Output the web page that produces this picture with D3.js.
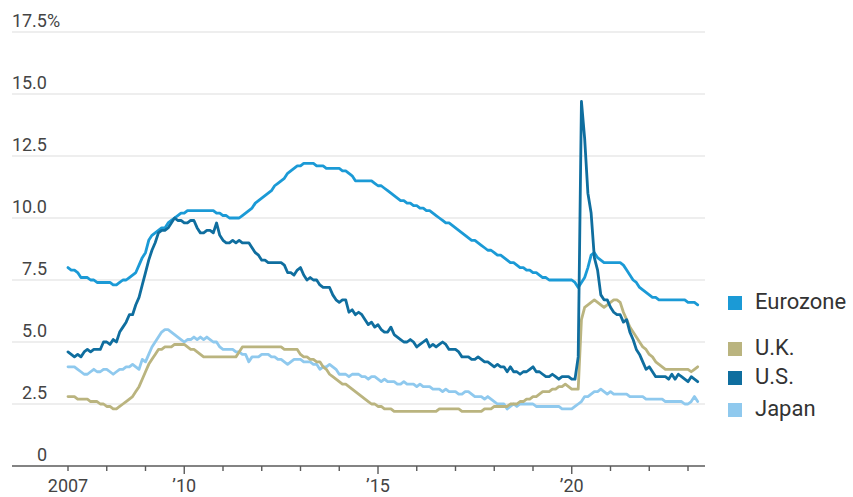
<!DOCTYPE html>
<html>
<head>
<meta charset="utf-8">
<script src="https://cdn.jsdelivr.net/npm/d3@7"></script>
<style>
  html, body { margin: 0; padding: 0; background: #fff; }
  svg { display: block; }
</style>
</head>
<body>
<svg id="chart" width="853" height="497"></svg>
<script>
// ---- DATA (monthly, Jan 2007 – Apr 2023, % unemployment) ----
const startYear = 2007;
const seriesNames = ["Eurozone", "U.K.", "U.S.", "Japan"];

const eurozone = [
  8.0,7.9,7.9,7.8,7.6,7.6,7.6,7.5,7.5,7.4,7.4,7.4,
  7.4,7.4,7.3,7.3,7.4,7.5,7.5,7.6,7.7,7.8,8.1,8.4,
  8.6,9.1,9.3,9.4,9.5,9.6,9.6,9.8,9.9,10.0,10.1,10.2,
  10.2,10.3,10.3,10.3,10.3,10.3,10.3,10.3,10.3,10.3,10.2,10.2,
  10.1,10.1,10.0,10.0,10.0,10.0,10.1,10.2,10.3,10.4,10.6,10.7,
  10.8,10.9,11.0,11.1,11.3,11.4,11.5,11.6,11.8,11.9,12.0,12.1,
  12.1,12.2,12.2,12.2,12.2,12.1,12.1,12.1,12.0,12.0,12.0,12.0,
  12.0,11.9,11.9,11.8,11.7,11.5,11.5,11.5,11.5,11.5,11.5,11.4,
  11.3,11.3,11.2,11.1,11.0,10.9,10.8,10.7,10.7,10.6,10.6,10.5,
  10.5,10.4,10.4,10.3,10.3,10.2,10.1,10.0,9.9,9.8,9.8,9.7,
  9.6,9.5,9.4,9.3,9.2,9.1,9.1,9.0,8.9,8.8,8.7,8.7,
  8.6,8.5,8.5,8.4,8.3,8.2,8.2,8.1,8.0,8.0,7.9,7.9,
  7.8,7.8,7.7,7.6,7.6,7.5,7.5,7.5,7.5,7.5,7.5,7.5,
  7.5,7.4,7.2,7.4,7.6,8.0,8.5,8.6,8.4,8.3,8.2,8.2,
  8.2,8.2,8.2,8.2,8.1,7.9,7.7,7.5,7.4,7.2,7.1,7.0,
  6.9,6.8,6.8,6.7,6.7,6.7,6.7,6.7,6.7,6.7,6.7,6.7,
  6.6,6.6,6.6,6.5
];

const uk = [
  2.8,2.8,2.8,2.7,2.7,2.7,2.7,2.6,2.6,2.6,2.5,2.5,
  2.4,2.4,2.3,2.3,2.4,2.5,2.6,2.7,2.8,3.0,3.2,3.5,
  3.8,4.1,4.3,4.5,4.7,4.7,4.8,4.8,4.8,4.9,4.9,4.9,
  4.9,4.8,4.7,4.7,4.6,4.5,4.4,4.4,4.4,4.4,4.4,4.4,
  4.4,4.4,4.4,4.4,4.4,4.6,4.8,4.8,4.8,4.8,4.8,4.8,
  4.8,4.8,4.8,4.8,4.8,4.8,4.8,4.7,4.7,4.7,4.7,4.7,
  4.5,4.4,4.4,4.3,4.3,4.2,4.2,4.0,3.9,3.7,3.6,3.5,
  3.4,3.3,3.3,3.2,3.1,3.0,2.9,2.8,2.7,2.6,2.5,2.5,
  2.4,2.4,2.3,2.3,2.3,2.2,2.2,2.2,2.2,2.2,2.2,2.2,
  2.2,2.2,2.2,2.2,2.2,2.2,2.2,2.3,2.3,2.3,2.3,2.3,
  2.3,2.3,2.2,2.2,2.2,2.2,2.2,2.2,2.2,2.3,2.3,2.3,
  2.4,2.4,2.4,2.4,2.4,2.5,2.5,2.5,2.6,2.6,2.7,2.7,
  2.8,2.8,2.9,3.0,3.0,3.0,3.1,3.1,3.2,3.2,3.3,3.2,
  3.1,3.1,3.1,5.9,6.4,6.5,6.6,6.7,6.6,6.5,6.4,6.5,
  6.6,6.7,6.7,6.6,6.2,5.9,5.6,5.4,5.2,5.0,4.8,4.7,
  4.5,4.4,4.2,4.1,4.0,3.9,3.9,3.9,3.9,3.9,3.9,3.9,
  3.9,3.8,3.9,4.0
];

const us = [
  4.6,4.5,4.4,4.5,4.4,4.6,4.7,4.6,4.7,4.7,4.7,5.0,
  5.0,4.9,5.1,5.0,5.4,5.6,5.8,6.1,6.1,6.5,6.8,7.3,
  7.8,8.3,8.7,9.0,9.4,9.5,9.5,9.6,9.8,10.0,9.9,9.9,
  9.8,9.8,9.9,9.9,9.6,9.4,9.4,9.5,9.5,9.4,9.8,9.3,
  9.1,9.0,9.0,9.1,9.0,9.1,9.0,9.0,9.0,8.8,8.6,8.5,
  8.3,8.3,8.2,8.2,8.2,8.2,8.2,8.1,7.8,7.8,7.7,7.9,
  8.0,7.7,7.5,7.6,7.5,7.5,7.3,7.2,7.2,7.2,6.9,6.7,
  6.6,6.7,6.7,6.2,6.3,6.1,6.2,6.1,5.9,5.7,5.8,5.6,
  5.7,5.5,5.4,5.4,5.6,5.3,5.2,5.1,5.0,5.0,5.1,5.0,
  4.8,4.9,5.0,5.1,4.8,4.9,4.8,4.9,5.0,4.9,4.7,4.7,
  4.7,4.6,4.4,4.4,4.4,4.3,4.3,4.4,4.3,4.2,4.2,4.1,
  4.0,4.1,4.0,4.0,3.8,4.0,3.8,3.8,3.7,3.8,3.8,3.9,
  4.0,3.8,3.8,3.7,3.6,3.6,3.7,3.6,3.5,3.6,3.6,3.6,
  3.5,3.5,4.4,14.7,13.2,11.0,10.2,8.4,7.9,6.9,6.7,6.7,
  6.4,6.2,6.1,6.1,5.8,5.9,5.4,5.1,4.7,4.5,4.2,3.9,
  4.0,3.8,3.6,3.6,3.6,3.6,3.5,3.7,3.5,3.7,3.6,3.5,
  3.4,3.6,3.5,3.4
];

const japan = [
  4.0,4.0,4.0,3.9,3.8,3.7,3.7,3.8,3.9,3.8,3.8,3.9,
  3.9,3.8,3.7,3.8,3.9,3.9,4.0,4.0,4.1,4.0,3.9,4.3,
  4.2,4.5,4.8,5.0,5.2,5.4,5.5,5.5,5.4,5.3,5.2,5.1,
  5.0,5.1,5.1,5.2,5.1,5.2,5.1,5.2,5.1,5.0,5.0,4.8,
  4.7,4.7,4.7,4.7,4.6,4.6,4.5,4.5,4.2,4.4,4.4,4.4,
  4.5,4.5,4.5,4.4,4.4,4.3,4.3,4.2,4.1,4.2,4.3,4.3,
  4.3,4.2,4.2,4.2,4.1,4.1,3.9,4.0,4.0,4.1,4.0,3.9,
  3.7,3.7,3.7,3.6,3.7,3.7,3.7,3.6,3.6,3.5,3.6,3.6,
  3.5,3.4,3.5,3.4,3.4,3.4,3.3,3.3,3.4,3.3,3.3,3.3,
  3.2,3.3,3.2,3.2,3.2,3.1,3.1,3.1,3.0,3.1,3.0,3.0,
  3.0,2.9,2.9,3.0,3.0,2.9,2.8,2.8,2.8,2.7,2.8,2.7,
  2.6,2.5,2.5,2.5,2.3,2.4,2.5,2.4,2.5,2.5,2.5,2.5,
  2.5,2.4,2.4,2.4,2.4,2.4,2.4,2.4,2.4,2.3,2.3,2.3,
  2.3,2.4,2.5,2.6,2.8,2.8,2.9,3.0,3.0,3.1,3.0,2.9,
  3.0,2.9,2.9,2.9,2.9,2.9,2.8,2.8,2.8,2.8,2.8,2.7,
  2.7,2.7,2.7,2.7,2.7,2.6,2.6,2.6,2.6,2.6,2.6,2.5,
  2.5,2.6,2.8,2.6
];

const yTicks = [0, 2.5, 5, 7.5, 10, 12.5, 15, 17.5];
const yTickLabels = ["0", "2.5", "5.0", "7.5", "10.0", "12.5", "15.0", "17.5"];
const xLabelYears = [2007, 2010, 2015, 2020];
const xTickLabels = ["2007", "\u201910", "\u201915", "\u201920"];
const xMinorYears = [2007,2008,2009,2010,2011,2012,2013,2014,2015,2016,2017,2018,2019,2020,2021,2022,2023];

// ---- STYLE ----
const colors = { "Eurozone": "#1b9ad6", "U.K.": "#bab47f", "U.S.": "#0f6e9f", "Japan": "#8fc9ee" };
const seriesData = { "Eurozone": eurozone, "U.K.": uk, "U.S.": us, "Japan": japan };
const drawOrder = ["Japan", "U.K.", "Eurozone", "U.S."];

const svg = d3.select("#chart");
const frameLeft = 12, frameRight = 705;

const x = d3.scaleLinear().domain([2007, 2023]).range([68, 688]);
const y = d3.scaleLinear().domain([0, 17.5]).range([466, 32]);

const fontAxis = "Roboto, 'Liberation Sans', sans-serif";

// gridlines
svg.append("g").selectAll("line")
  .data(yTicks.filter(v => v > 0))
  .join("line")
  .attr("x1", frameLeft).attr("x2", frameRight)
  .attr("y1", d => y(d)).attr("y2", d => y(d))
  .attr("stroke", "#dedede").attr("stroke-width", 1.2);

// y labels
const yl = svg.append("g").attr("font-family", fontAxis).attr("font-size", 18).attr("fill", "#444");
yl.selectAll("text.num")
  .data(yTicks)
  .join("text")
  .attr("class", "num")
  .attr("x", 47)
  .attr("y", d => y(d) - 5)
  .attr("text-anchor", "end")
  .text((d, i) => yTickLabels[i]);
yl.append("text")
  .attr("x", 47).attr("y", y(17.5) - 5)
  .attr("text-anchor", "start")
  .text("%");

// lines
const line = d3.line()
  .x((d, i) => x(startYear + i / 12))
  .y(d => y(d));

svg.append("g").selectAll("path")
  .data(drawOrder)
  .join("path")
  .attr("d", name => line(seriesData[name]))
  .attr("fill", "none")
  .attr("stroke", name => colors[name])
  .attr("stroke-width", 2.8)
  .attr("stroke-linejoin", "round")
  .attr("stroke-linecap", "round");

// x axis
const xAxisG = svg.append("g");
xAxisG.append("line")
  .attr("x1", frameLeft).attr("x2", frameRight)
  .attr("y1", y(0)).attr("y2", y(0))
  .attr("stroke", "#5a5a5a").attr("stroke-width", 1.6);
xAxisG.selectAll("line.tick")
  .data(xMinorYears)
  .join("line")
  .attr("class", "tick")
  .attr("x1", d => x(d)).attr("x2", d => x(d))
  .attr("y1", y(0))
  .attr("y2", d => y(0) + (xLabelYears.includes(d) && d !== 2007 ? 8 : 5))
  .attr("stroke", "#5a5a5a").attr("stroke-width", 1.4);
xAxisG.selectAll("text")
  .data(xLabelYears)
  .join("text")
  .attr("x", d => x(d))
  .attr("y", 492)
  .attr("text-anchor", "middle")
  .attr("font-family", fontAxis).attr("font-size", 18).attr("fill", "#444")
  .text((d, i) => xTickLabels[i]);

// legend
const legendY = { "Eurozone": 303, "U.K.": 349, "U.S.": 378, "Japan": 410 };
const lg = svg.append("g");
const items = lg.selectAll("g").data(seriesNames).join("g")
  .attr("transform", d => `translate(728, ${legendY[d]})`);
items.append("rect")
  .attr("x", 0).attr("y", -7).attr("width", 14).attr("height", 14)
  .attr("fill", d => colors[d]);
items.append("text")
  .attr("x", 27).attr("y", 5.5)
  .attr("font-family", fontAxis).attr("font-size", 22).attr("fill", "#333")
  .text(d => d);
</script>
</body>
</html>
